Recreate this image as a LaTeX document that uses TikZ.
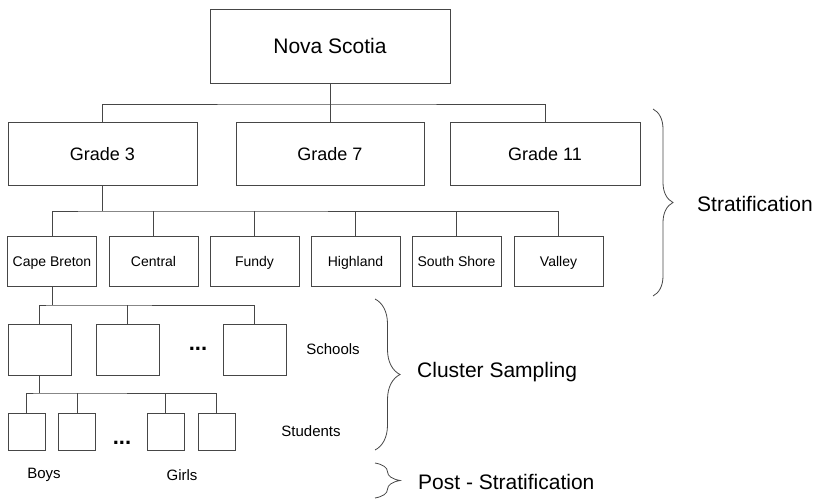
\documentclass[tikz,border=0pt]{standalone}
\usepackage{fontspec}
\setmainfont{Liberation Sans}
\usetikzlibrary{decorations.pathreplacing}
\definecolor{ln}{RGB}{70,70,70}
\begin{document}
\begin{tikzpicture}[x=1pt,y=-1pt,
  box/.style={draw=ln,line width=0.8pt,rectangle,inner sep=0pt,anchor=center,text depth=0pt},
  conn/.style={draw=ln,line width=0.8pt},
  lbl/.style={inner sep=0pt,anchor=center,font=\fontsize{15}{18}\selectfont},
  big/.style={inner sep=0pt,anchor=west,font=\fontsize{21}{25}\selectfont},
  dots/.style={inner sep=0pt,anchor=center,font=\fontsize{22}{24}\selectfont\bfseries},
  brace/.style={draw=ln,line width=0.8pt,decorate,decoration={brace,amplitude=#1}}]
\useasboundingbox (0,0) rectangle (816,500);
% top
\node[box,minimum width=240pt,minimum height=74pt,text height=15pt,font=\fontsize{21}{25}\selectfont] (nova) at (330,46) {Nova Scotia};
\node[box,minimum width=189pt,minimum height=63pt,text height=13pt,font=\fontsize{18}{22}\selectfont] (g3) at (102.5,153.5) {Grade 3};
\node[box,minimum width=188pt,minimum height=63pt,text height=13pt,font=\fontsize{18}{22}\selectfont] (g7) at (330,153.5) {Grade 7};
\node[box,minimum width=190pt,minimum height=63pt,text height=13pt,font=\fontsize{18}{22}\selectfont] (g11) at (545,153.5) {Grade 11};
\coordinate (b1) at (330,104);
\draw[conn] (nova.south) -- (g7.north);
\draw[conn] (g3.north) |- (b1) -| (g11.north);
% regions
\foreach \n/\x/\t in {r1/52/Cape Breton,r2/153.5/Central,r3/254.5/Fundy,r4/355.5/Highland,r5/456.5/South Shore,r6/558.5/Valley}{
  \node[box,minimum width=89pt,minimum height=50pt,text height=10pt,font=\fontsize{14}{17}\selectfont] (\n) at (\x,261) {\t};
}
\coordinate (b2) at (102.5,211);
\draw[conn] (g3.south) -- (b2);
\draw[conn] (r1.north) |- (b2) -| (r6.north);
\foreach \n in {r2,r3,r4,r5}{\draw[conn] (\n.north) -- (\n.north |- b2);}
% schools
\foreach \n/\x in {s1/39.5,s2/127.5,s3/254.5}{
  \node[box,minimum width=63pt,minimum height=51pt] (\n) at (\x,349.5) {};
}
\coordinate (b3) at (52,305);
\draw[conn] (r1.south) -- (b3);
\draw[conn] (s1.north) |- (b3) -| (s3.north);
\draw[conn] (s2.north) -- (s2.north |- b3);
\node[dots] (d1) at (198,349) {...};
\node[lbl] (schools) at (333,349) {Schools};
% students
\foreach \n/\x in {t1/26.5,t2/77,t3/165.5,t4/216.5}{
  \node[box,minimum width=37pt,minimum height=37pt] (\n) at (\x,431.5) {};
}
\coordinate (b4) at (39.5,393);
\draw[conn] (s1.south) -- (b4);
\draw[conn] (t1.north) |- (b4) -| (t4.north);
\draw[conn] (t2.north) -- (t2.north |- b4);
\draw[conn] (t3.north) -- (t3.north |- b4);
\node[dots] (d2) at (122,443) {...};
\node[lbl] (students) at (311,431) {Students};
\node[lbl] (boys) at (44,475) {Boys};
\node[lbl] (girls) at (182,475) {Girls};
% braces
\coordinate (sa) at (653,109);
\coordinate (sb) at (653,296);
\draw[brace=20pt] (sa) -- (sb);
\node[big] (strat) at (697,204) {Stratification};
\coordinate (ca) at (375,299);
\coordinate (cb) at (375,450);
\draw[brace=25pt] (ca) -- (cb);
\node[big] (clus) at (417,372) {Cluster Sampling};
\coordinate (pa) at (375,463);
\coordinate (pb) at (375,498);
\draw[brace=25pt] (pa) -- (pb);
\node[big] (post) at (418,482) {Post - Stratification};
\end{tikzpicture}
\end{document}
